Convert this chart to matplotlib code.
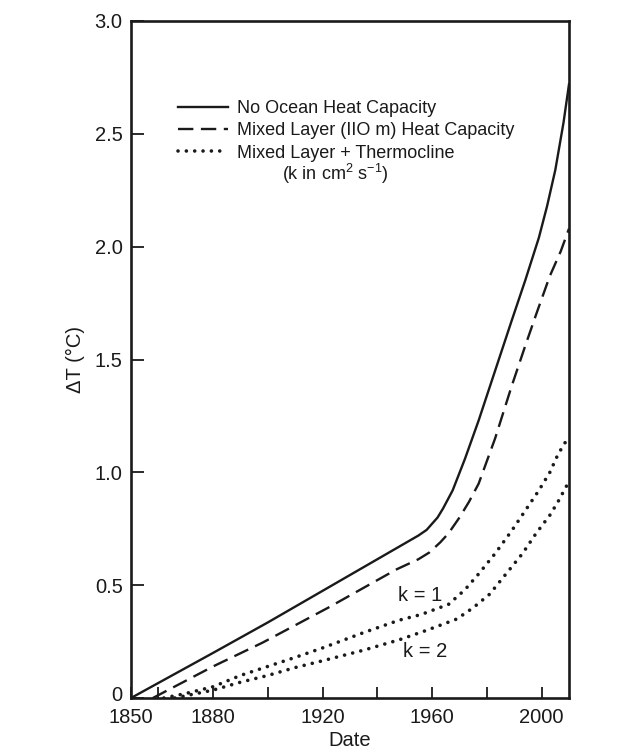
import matplotlib
matplotlib.use("Agg")
import matplotlib.pyplot as plt
from matplotlib.transforms import ScaledTranslation

plt.rcParams['font.family'] = ['Liberation Sans', 'DejaVu Sans']
plt.rcParams['mathtext.fontset'] = 'custom'
plt.rcParams['mathtext.rm'] = 'Liberation Sans'
plt.rcParams['mathtext.it'] = 'Liberation Sans:italic'

# ---- data ----
years_no_ocean = [1850, 1880, 1900, 1920, 1940, 1955, 1958, 1962, 1964, 1967.5, 1972,
                  1977, 1983, 1989, 1994, 1999, 2002, 2005, 2008, 2010]
dT_no_ocean = [0.0, 0.20, 0.335, 0.475, 0.615, 0.72, 0.745, 0.80, 0.84, 0.92, 1.06,
               1.23, 1.45, 1.67, 1.85, 2.04, 2.18, 2.34, 2.55, 2.72]

years_mixed = [1858, 1880, 1898, 1922, 1947, 1955, 1959, 1963, 1966, 1970, 1973.5,
               1977, 1983, 1989, 1994, 1998, 2003, 2007, 2010]
dT_mixed = [0.0, 0.14, 0.245, 0.40, 0.57, 0.615, 0.645, 0.69, 0.73, 0.80, 0.87,
            0.95, 1.15, 1.38, 1.56, 1.70, 1.87, 1.98, 2.08]

years_k1 = [1862, 1870, 1880, 1890, 1900, 1910, 1920, 1935, 1948, 1956, 1966, 1972,
            1977, 1983, 1989, 1994, 1999, 2003, 2006, 2010]
dT_k1 = [0.0, 0.02, 0.05, 0.10, 0.14, 0.18, 0.222, 0.29, 0.345, 0.37, 0.415, 0.48,
         0.55, 0.64, 0.74, 0.83, 0.92, 1.00, 1.08, 1.16]

years_k2 = [1866, 1880, 1890, 1900, 1910, 1920, 1935, 1948, 1958, 1969, 1975, 1981,
            1987, 1993, 1998, 2003, 2006, 2010]
dT_k2 = [0.0, 0.035, 0.07, 0.10, 0.135, 0.165, 0.212, 0.258, 0.30, 0.35, 0.40, 0.46,
         0.55, 0.64, 0.73, 0.81, 0.87, 0.96]

x_ticks = [1850, 1860, 1880, 1900, 1920, 1940, 1960, 1980, 2000]
x_tick_labels = ['1850', '', '1880', '', '1920', '', '1960', '', '2000']
y_ticks = [0, 0.5, 1.0, 1.5, 2.0, 2.5, 3.0]
y_tick_labels = ['0', '0.5', '1.0', '1.5', '2.0', '2.5', '3.0']

series_labels = ['No Ocean Heat Capacity',
                 'Mixed Layer (IIO m) Heat Capacity',
                 'Mixed Layer + Thermocline']

# ---- figure ----
fig = plt.figure(figsize=(6.41, 7.53), dpi=100)
ax = fig.add_axes([131 / 641, 1 - 698 / 753, 438 / 641, 677 / 753])

ink = '#1a1a1a'
l1, = ax.plot(years_no_ocean, dT_no_ocean, color=ink, lw=1.7, label=series_labels[0])
l2, = ax.plot(years_mixed, dT_mixed, color=ink, lw=1.7, linestyle=(0, (6.5, 3.2)),
              label=series_labels[1])
l3, = ax.plot(years_k1, dT_k1, color=ink, lw=2.6, linestyle=(0, (0.01, 2.3)),
              dash_capstyle='round', label=series_labels[2])
ax.plot(years_k2, dT_k2, color=ink, lw=2.6, linestyle=(0, (0.01, 2.3)),
        dash_capstyle='round')

ax.set_xlim(1850, 2010)
ax.set_ylim(0, 3.0)
ax.set_xticks(x_ticks)
ax.set_xticklabels(x_tick_labels)
ax.set_yticks(y_ticks)
ax.set_yticklabels(y_tick_labels)
ax.tick_params(axis='x', direction='in', length=8, width=1.3, labelsize=14.5, pad=7,
               colors=ink)
ax.tick_params(axis='y', direction='in', length=9.5, width=1.3, labelsize=14.5, pad=6,
               colors=ink)
for s in ax.spines.values():
    s.set_linewidth(1.9)
    s.set_color(ink)

# lift the "0" label slightly so it clears "1850", as in the reference
zero_lbl = ax.get_yticklabels()[0]
zero_lbl.set_transform(zero_lbl.get_transform() +
                       ScaledTranslation(0, 3 / 72, fig.dpi_scale_trans))

ax.set_xlabel('Date', fontsize=14.5, color=ink, labelpad=3)
ax.set_ylabel('ΔT (°C)', fontsize=14.5, color=ink, labelpad=7)

leg = ax.legend(handles=[l1, l2, l3], loc='upper left', bbox_to_anchor=(0.107, 0.883),
                frameon=False, fontsize=13, handlelength=2.75, handletextpad=0.55,
                labelspacing=0.29, borderpad=0, borderaxespad=0)
for t in leg.get_texts():
    t.set_color(ink)

ax.text(0.345, 0.774, r'(k in cm$^{2}$ s$^{-1}$)', transform=ax.transAxes,
        fontsize=13, color=ink, ha='left', va='center')

ax.text(1955.5, 0.455, 'k = 1', fontsize=14.5, color=ink, ha='center', va='center')
ax.text(1957.5, 0.205, 'k = 2', fontsize=14.5, color=ink, ha='center', va='center')

fig.savefig('out.png', dpi=100)
